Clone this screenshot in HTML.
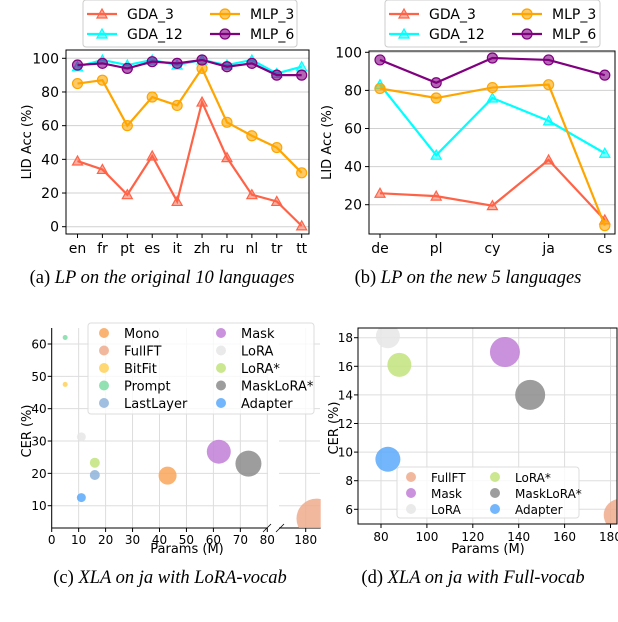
<!DOCTYPE html>
<html><head><meta charset="utf-8">
<style>
body{margin:0;background:#fff;}
svg{display:block;font-family:"DejaVu Sans","Liberation Sans",sans-serif;}
.cap{font-family:"Liberation Serif",serif;font-size:18.5px;}
</style></head>
<body>
<svg id="s" width="618" height="622" viewBox="0 0 618 622" xmlns="http://www.w3.org/2000/svg"></svg>
<script>
// ---- data ----
const catsA = ["en","fr","pt","es","it","zh","ru","nl","tr","tt"];
const gda3A = [39,34,19,42,15,74,41,19,15,0.5];
const gda12A = [95,99,96,99,96,99,96,99,91,95];
const mlp3A = [85,87,60,77,72,94,62,54,47,32];
const mlp6A = [96,97,94,98,97,99,95,97,90,90];
const ticksA = [0,20,40,60,80,100];

const catsB = ["de","pl","cy","ja","cs"];
const gda3B = [26,24.5,19.5,43.5,12];
const gda12B = [83,46,76,64,47];
const mlp3B = [81,76,81.5,83,9];
const mlp6B = [96,84,97,96,88];
const ticksB = [20,40,60,80,100];

const namesC = ["Mono","FullFT","BitFit","Prompt","LastLayer","Mask","LoRA","LoRA*","MaskLoRA*","Adapter"];
const colorsC = ["#f9a65a","#f0ab8d","#ffd15c","#7fdca4","#8fb3d9","#c17fd6","#e6e6e6","#c2e37c","#8c8c8c","#5aa9fa"];
const paramsC = [43,184,5,5,16,62,11,16,73,11];
const cerC = [19.3,6,47.5,62,19.5,26.7,31.3,23.3,23,12.5];
const sizeC = [9,20,2.5,2.5,5,12,4.5,5,13,4.5];
const xTicksC = [0,10,20,30,40,50,60,70,80];
const yTicksC = [10,20,30,40,50,60];

const namesD = ["FullFT","Mask","LoRA","LoRA*","MaskLoRA*","Adapter"];
const colorsD = ["#f0ab8d","#c17fd6","#e6e6e6","#c2e37c","#8c8c8c","#5aa9fa"];
const paramsD = [184,134,83,88,145,83];
const cerD = [5.6,17,18.1,16.1,14,9.5];
const sizeD = [16,15,12,12,15,12.5];
const xTicksD = [80,100,120,140,160,180];
const yTicksD = [6,8,10,12,14,16,18];

const NS="http://www.w3.org/2000/svg";
const svg=document.getElementById('s');
function el(tag,attrs,parent,txt){const e=document.createElementNS(NS,tag);for(const k in attrs)e.setAttribute(k,attrs[k]);if(txt!==undefined)e.textContent=txt;(parent||svg).appendChild(e);return e;}

const serCols={gda3:"#ff6347",gda12:"#00ffff",mlp3:"#ffa500",mlp6:"#800080"};

function marker(g,type,x,y,c){
  if(type==="tri"){const m=el('polygon',{points:`${x},${y-5} ${x-5},${y+4} ${x+5},${y+4}`,fill:c,'fill-opacity':0.5,stroke:c,'stroke-width':1.2},g);
    }
  else{const m=el('circle',{cx:x,cy:y,r:5,fill:c,'fill-opacity':0.6,stroke:c,'stroke-width':1.2},g);
    }
}
function lineSeries(g,cats,vals,xf,yf,c,type,name){
  const s=el('g',{},g);
  
  
  el('polyline',{points:vals.map((v,i)=>xf(i)+','+yf(v)).join(' '),fill:'none',stroke:c,'stroke-width':2.2},s);
  vals.forEach((v,i)=>marker(s,type,xf(i),yf(v),c));
}
function lineLegend(x0,y0,w){
  const g=el('g',{});
  
  
  el('rect',{x:x0,y:y0,width:w,height:47,rx:3,fill:'#fff',stroke:'#ccc'},g);
  const items=[["GDA_3","gda3","tri",0,0],["GDA_12","gda12","tri",0,1],["MLP_3","mlp3","cir",1,0],["MLP_6","mlp6","cir",1,1]];
  items.forEach(it=>{
    const lx=x0+4+it[3]*123, ly=y0+14+it[4]*20;
    const e=el('g',{},g);
    
    
    el('line',{x1:lx,y1:ly,x2:lx+30,y2:ly,stroke:serCols[it[1]],'stroke-width':2.2},e);
    marker(e,it[2],lx+15,ly,serCols[it[1]]);
    el('text',{x:lx+40,y:ly+5,'font-size':14},e,it[0]);
  });
}
function linePanel(cfg){
  const g=el('g',{});
  
  
  const {L,R,T,B}=cfg;
  cfg.ticks.forEach(t=>{const y=cfg.yf(t);
    el('line',{x1:L,x2:R,y1:y,y2:y,stroke:'#d0d0d0','stroke-width':1},g);
    el('line',{x1:L-4,x2:L,y1:y,y2:y,stroke:'#000'},g);
    const tl=el('text',{x:L-7,y:y+5,'font-size':14,'text-anchor':'end'},g,t);
    
  });
  cfg.cats.forEach((c,i)=>{const x=cfg.xf(i);
    el('line',{x1:x,x2:x,y1:B,y2:B+4,stroke:'#000'},g);
    const tl=el('text',{x:x,y:B+19,'font-size':14,'text-anchor':'middle'},g,c);
    
  });
  el('rect',{x:L,y:T,width:R-L,height:B-T,fill:'none',stroke:'#000','stroke-width':1},g);
  const yl=el('text',{x:0,y:0,'font-size':13,'text-anchor':'middle',transform:`translate(${cfg.ylx},${(T+B)/2}) rotate(-90)`},g,'LID Acc (%)');
  
  lineSeries(g,cfg.cats,cfg.s[0],cfg.xf,cfg.yf,serCols.gda3,'tri','series-gda-3');
  lineSeries(g,cfg.cats,cfg.s[1],cfg.xf,cfg.yf,serCols.gda12,'tri','series-gda-12');
  lineSeries(g,cfg.cats,cfg.s[2],cfg.xf,cfg.yf,serCols.mlp3,'cir','series-mlp-3');
  lineSeries(g,cfg.cats,cfg.s[3],cfg.xf,cfg.yf,serCols.mlp6,'cir','series-mlp-6');
}
// panel a
linePanel({name:'panel-a',L:66,R:309,T:50,B:234,cats:catsA,ticks:ticksA,ylx:31,
  xf:i=>77.5+i*24.91,yf:v=>226.7-v*1.684,s:[gda3A,gda12A,mlp3A,mlp6A]});
lineLegend(83,0,214);
// panel b
linePanel({name:'panel-b',L:369,R:615,T:51,B:234,cats:catsB,ticks:ticksB,ylx:331,
  xf:i=>380+i*56.2,yf:v=>204.7-(v-20)*1.905,s:[gda3B,gda12B,mlp3B,mlp6B]});
lineLegend(385,0,215);

function caption(x,y,a,b,name){
  const t=el('text',{x:x,y:y,'text-anchor':'middle',class:'cap'});
  
  el('tspan',{},t,a);el('tspan',{'font-style':'italic'},t,b);
}
caption(162,283,'(a) ','LP on the original 10 languages','caption-a');
caption(468,283,'(b) ','LP on the new 5 languages','caption-b');

function scatterLegend(x0,y0,w,h,names,cols,rows,colx,rowdy,fs){
  const g=el('g',{});
  
  
  el('rect',{x:x0,y:y0,width:w,height:h,rx:3,fill:'#fff','fill-opacity':0.8,stroke:'#ddd'},g);
  names.forEach((n,i)=>{const c=Math.floor(i/rows),r=i%rows;
    const mx=x0+colx[c], my=y0+10+r*rowdy;
    const e=el('g',{},g);
    
    
    el('circle',{cx:mx,cy:my,r:5,fill:cols[i],'fill-opacity':0.85},e);
    el('text',{x:mx+20,y:my+5,'font-size':fs},e,n);
  });
}
// panel c
(function(){
  const g=el('g',{});
  
  
  const L=51.7,T=328,B=528;
  const xf=p=>p<=80?L+p*2.695:305.7+(p-180)*2.695;
  const yf=v=>505.7-(v-10)*3.234;
  const cp=el('clipPath',{id:'clipc'},g);el('rect',{x:L,y:T,width:269,height:B-T},cp);
  xTicksC.forEach(t=>{const x=xf(t);el('line',{x1:x,x2:x,y1:T,y2:B,stroke:'#ddd'},g);
    el('line',{x1:x,x2:x,y1:B,y2:B+4,stroke:'#000'},g);
    const tl=el('text',{x:x,y:B+16,'font-size':12,'text-anchor':'middle'},g,t);
    });
  {const x=xf(180);el('line',{x1:x,x2:x,y1:T,y2:B,stroke:'#ddd'},g);el('line',{x1:x,x2:x,y1:B,y2:B+4,stroke:'#000'},g);
    const tl=el('text',{x:x,y:B+16,'font-size':12,'text-anchor':'middle'},g,'180');
    }
  yTicksC.forEach(t=>{const y=yf(t);el('line',{x1:L,x2:320,y1:y,y2:y,stroke:'#ddd'},g);
    el('line',{x1:L-4,x2:L,y1:y,y2:y,stroke:'#000'},g);
    const tl=el('text',{x:L-5,y:y+4.5,'font-size':12,'text-anchor':'end'},g,t);
    });
  el('rect',{x:268,y:T,width:11,height:B-T+2,fill:'#fff'},g);
  el('line',{x1:L,x2:L,y1:T,y2:B,stroke:'#000'},g);
  el('line',{x1:L,x2:267.3,y1:B,y2:B,stroke:'#000'},g);
  el('line',{x1:279,x2:320.7,y1:B,y2:B,stroke:'#000'},g);
  el('line',{x1:263,x2:271,y1:532,y2:524,stroke:'#000','stroke-width':0.8},g);
  el('line',{x1:276,x2:284,y1:532,y2:524,stroke:'#000','stroke-width':0.8},g);
  const pts=el('g',{'clip-path':'url(#clipc)'},g);
  namesC.forEach((n,i)=>{const c=el('circle',{cx:xf(paramsC[i]),cy:yf(cerC[i]),r:sizeC[i],fill:colorsC[i],'fill-opacity':0.85},pts);
    
    });
  const xl=el('text',{x:187,y:553,'font-size':13,'text-anchor':'middle'},g,'Params (M)');
  
  const yl=el('text',{x:0,y:0,'font-size':13,'text-anchor':'middle',transform:'translate(31,431) rotate(-90)'},g,'CER (%)');
  
  scatterLegend(88,323,226,91,namesC,colorsC,5,[16,133],17.5,13);
})();
// panel d
(function(){
  const g=el('g',{});
  
  
  const L=358,R=617,T=328,B=524;
  const xf=p=>381+(p-80)*2.295;
  const yf=v=>509.3-(v-6)*14.3;
  const cp=el('clipPath',{id:'clipd'},g);el('rect',{x:L,y:T,width:R-L,height:B-T},cp);
  xTicksD.forEach(t=>{const x=xf(t);el('line',{x1:x,x2:x,y1:T,y2:B,stroke:'#ddd'},g);
    el('line',{x1:x,x2:x,y1:B,y2:B+4,stroke:'#000'},g);
    const tl=el('text',{x:x,y:B+17,'font-size':12,'text-anchor':'middle'},g,t);
    });
  yTicksD.forEach(t=>{const y=yf(t);el('line',{x1:L,x2:R,y1:y,y2:y,stroke:'#ddd'},g);
    el('line',{x1:L-4,x2:L,y1:y,y2:y,stroke:'#000'},g);
    const tl=el('text',{x:L-5,y:y+4.5,'font-size':12,'text-anchor':'end'},g,t);
    });
  const pts=el('g',{'clip-path':'url(#clipd)'},g);
  namesD.forEach((n,i)=>{const c=el('circle',{cx:xf(paramsD[i]),cy:yf(cerD[i]),r:sizeD[i],fill:colorsD[i],'fill-opacity':0.85},pts);
    
    });
  el('rect',{x:L,y:T,width:R-L,height:B-T,fill:'none',stroke:'#000'},g);
  const xl=el('text',{x:488,y:553,'font-size':13,'text-anchor':'middle'},g,'Params (M)');
  
  const yl=el('text',{x:0,y:0,'font-size':13,'text-anchor':'middle',transform:'translate(338,428) rotate(-90)'},g,'CER (%)');
  
  scatterLegend(397,467,182,51,namesD,colorsD,3,[14,98],16,12);
})();
caption(170,583,'(c) ','XLA on ja with LoRA-vocab','caption-c');
caption(473,583,'(d) ','XLA on ja with Full-vocab','caption-d');
</script>
</body></html>
